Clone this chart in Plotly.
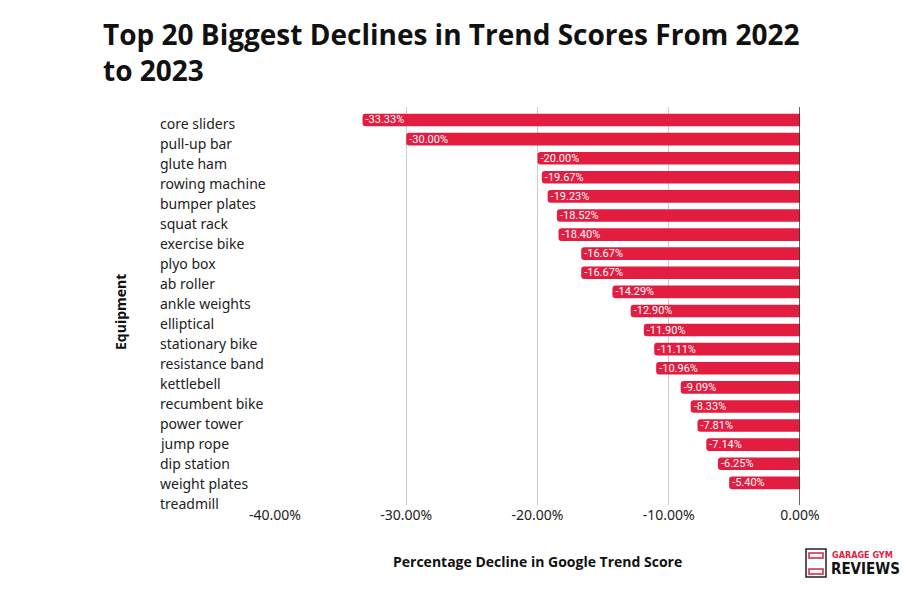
import plotly.graph_objects as go

equipment = ["core sliders", "pull-up bar", "glute ham", "rowing machine", "bumper plates",
             "squat rack", "exercise bike", "plyo box", "ab roller", "ankle weights",
             "elliptical", "stationary bike", "resistance band", "kettlebell", "recumbent bike",
             "power tower", "jump rope", "dip station", "weight plates", "treadmill"]
decline = [-0.3333, -0.3000, -0.2000, -0.1967, -0.1923, -0.1852, -0.1840, -0.1667, -0.1667,
           -0.1429, -0.1290, -0.1190, -0.1111, -0.1096, -0.0909, -0.0833, -0.0781, -0.0714,
           -0.0625, -0.0540]
x_ticks = [-0.4, -0.3, -0.2, -0.1, 0.0]

def pct(v):
    return f"{v*100:.2f}%"

RED = "#E21D3F"
# plot area in reference pixels: x 275..800, y 107..505 (page is offset by 8px body margin)
def px(X):
    return (X - 275) / 525
def py(Y):
    return (505 - Y) / 398

fig = go.Figure()
fig.add_trace(go.Bar(
    x=decline, y=equipment, orientation="h",
    marker=dict(color=RED, cornerradius=3, line=dict(width=0)),
    width=0.66,
    text=[pct(v) for v in decline], textposition="inside", insidetextanchor="end",
    constraintext="none",
    textfont=dict(family="Roboto", size=11, color="white"),
    hoverinfo="skip",
))
# invisible trace establishing the label axis
fig.add_trace(go.Scatter(x=[None]*len(equipment), y=equipment, yaxis="y2",
                         mode="markers", showlegend=False, hoverinfo="skip"))

for name in equipment:
    fig.add_annotation(x=px(158), xref="paper", y=name, yref="y2", text=name,
                       showarrow=False, xanchor="left", yanchor="middle",
                       font=dict(family="Noto Sans", size=14, color="#222"))

fig.update_layout(
    width=920, height=590,
    margin=dict(l=267, r=128, t=99, b=93),
    plot_bgcolor="white", paper_bgcolor="white",
    showlegend=False,
    title=dict(text="<b>Top 20 Biggest Declines in Trend Scores From 2022<br>to 2023</b>",
               x=95/920, xanchor="left", y=1-37/590, yanchor="top",
               font=dict(family="Open Sans", size=28, color="#111")),
    xaxis=dict(range=[-0.4, 0.0], tickvals=x_ticks, ticktext=[pct(v) for v in x_ticks],
               showgrid=True, gridcolor="#cccccc", gridwidth=1,
               zeroline=False, showline=False, ticks="",
               tickfont=dict(family="Noto Sans", size=14, color="#222")),
    yaxis=dict(type="category", categoryorder="array", categoryarray=equipment,
               range=[20.16, -0.68], showticklabels=False, showgrid=False,
               zeroline=False, ticks=""),
    yaxis2=dict(type="category", categoryorder="array", categoryarray=equipment,
                range=[19.1, -0.8], overlaying="y", showticklabels=False,
                showgrid=False, zeroline=False, ticks=""),
)
fig.add_vline(x=0, line=dict(color="#333", width=1.5))

fig.add_annotation(x=0.5, xref="paper", y=py(561), yref="paper",
                   yanchor="middle", xanchor="center", showarrow=False,
                   text="<b>Percentage Decline in Google Trend Score</b>",
                   font=dict(family="Open Sans", size=14, color="#111"))
fig.add_annotation(x=px(120), xref="paper", y=py(312), yref="paper",
                   textangle=-90, showarrow=False, xanchor="center", yanchor="middle",
                   text="<b>Equipment</b>",
                   font=dict(family="Open Sans", size=14, color="#111"))

# logo
fig.add_shape(type="rect", xref="paper", yref="paper",
              x0=px(806), x1=px(826), y0=py(577), y1=py(549),
              line=dict(color="#222", width=1.5), fillcolor="white")
fig.add_shape(type="rect", xref="paper", yref="paper",
              x0=px(809), x1=px(823), y0=py(558), y1=py(553),
              line=dict(color=RED, width=1.5))
fig.add_shape(type="rect", xref="paper", yref="paper",
              x0=px(809), x1=px(823), y0=py(574), y1=py(569),
              line=dict(color=RED, width=1.5))
fig.add_annotation(x=px(830), xref="paper", y=py(555), yref="paper",
                   xanchor="left", yanchor="middle", showarrow=False,
                   text="<b>GARAGE GYM</b>",
                   font=dict(family="DejaVu Sans Condensed", size=9, color=RED))
fig.add_annotation(x=px(829), xref="paper", y=py(569), yref="paper",
                   xanchor="left", yanchor="middle", showarrow=False,
                   text="<b>REVIEWS</b>",
                   font=dict(family="DejaVu Sans Condensed", size=15, color="#111"))

fig.write_html("out.html")
